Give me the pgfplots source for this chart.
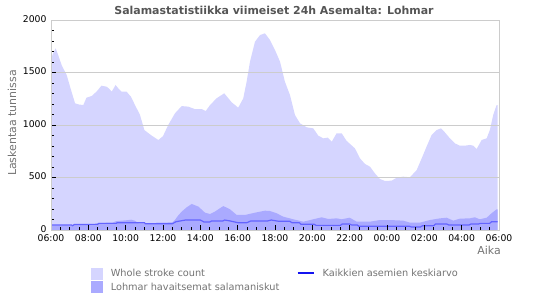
\documentclass[border=0pt]{standalone}
\usepackage{fontspec}
\setmainfont{DejaVu Sans}
\usepackage{pgfplots}
\pgfplotsset{compat=1.18}
\definecolor{lightfill}{RGB}{213,213,255}
\definecolor{darkfill}{RGB}{170,170,255}
\definecolor{avgline}{RGB}{100,100,255}
\definecolor{legline}{RGB}{20,20,240}
\definecolor{titlegray}{RGB}{85,85,85}
\definecolor{labelgray}{RGB}{115,115,115}
\definecolor{framegray}{RGB}{204,204,204}
\begin{document}
\begin{tikzpicture}
\path[use as bounding box] (0,0) rectangle (550bp,300bp);
\begin{axis}[
  at={(51bp,70bp)}, anchor=south west,
  scale only axis, width=448bp, height=210bp,
  xmin=0, xmax=24, ymin=0, ymax=2000,
  axis line style={framegray, line width=0.8bp},
  xtick={0,2,...,24},
  xticklabels={06:00,08:00,10:00,12:00,14:00,16:00,18:00,20:00,22:00,00:00,02:00,04:00,06:00},
  minor x tick num=3,
  ytick={0,500,...,2000},
  minor y tick num=4,
  tick style={black, line width=0.8bp},
  major tick length=5bp, minor tick length=3bp,
  tick align=inside,
  xtick pos=bottom, ytick pos=left,
  ymajorgrids, major grid style={framegray, line width=0.8bp},
  /pgf/number format/assume math mode=true,
  /pgf/number format/set thousands separator={},
  ticklabel style={font=\fontsize{9.3}{11}\selectfont, text=black},
  xticklabel style={yshift=-1bp},
  yticklabel style={xshift=-1bp, yshift=1bp},
  axis on top,
  legend columns=2,
  legend style={at={(0.083,-0.165)}, anchor=north west, draw=none, fill=none,
    font=\fontsize{9.8}{11.5}\selectfont, text=labelgray,
    /tikz/every odd column/.append style={column sep=6bp},
    /tikz/every even column/.append style={column sep=15bp},
    row sep=1bp},
  legend cell align=left,
]
\addlegendimage{legend image code/.code={\fill[lightfill] (0bp,-5.5bp) rectangle (11bp,5.5bp);}}
\addlegendentry{Whole stroke count}
\addlegendimage{legend image code/.code={\draw[legline, line width=2.2bp] (0bp,0bp) -- (16bp,0bp);}}
\addlegendentry{Kaikkien asemien keskiarvo}
\addlegendimage{legend image code/.code={\fill[darkfill] (0bp,-5.5bp) rectangle (11bp,5.5bp);}}
\addlegendentry{Lohmar havaitsemat salamaniskut}

% Whole stroke count
\addplot[fill=lightfill, draw=none, forget plot] coordinates {
(0,0) (0,1620) (0.1,1680) (0.25,1730) (0.4,1660) (0.57,1570) (0.84,1476) (1.1,1317) (1.29,1206)
(1.5,1195) (1.73,1190) (1.9,1260) (2.18,1276) (2.45,1320) (2.7,1374) (2.98,1365) (3.15,1340)
(3.25,1317) (3.46,1381) (3.6,1350) (3.78,1317) (4.05,1317) (4.28,1270) (4.5,1190) (4.77,1095)
(5.0,952) (5.4,898) (5.75,857) (6.0,894) (6.28,1000) (6.64,1111) (7.0,1180) (7.35,1175)
(7.7,1152) (8.07,1152) (8.29,1133) (8.52,1190) (8.87,1254) (9.28,1302) (9.68,1216) (10.03,1165)
(10.3,1254) (10.48,1413) (10.66,1603) (10.93,1794) (11.2,1857) (11.46,1873) (11.73,1810)
(12.0,1714) (12.27,1603) (12.53,1413) (12.8,1286) (13.07,1095) (13.34,1016) (13.7,978)
(14.05,968) (14.32,898) (14.59,873) (14.82,880) (15.04,841) (15.3,921) (15.57,921) (15.84,848)
(16.28,778) (16.55,683) (16.82,629) (17.09,603) (17.35,540) (17.62,486) (17.89,467) (18.25,470)
(18.52,498) (18.87,508) (19.23,502) (19.59,571) (19.86,683) (20.12,794) (20.39,905) (20.66,952)
(20.89,968) (21.1,930) (21.37,873) (21.64,825) (21.9,803) (22.17,803) (22.44,810) (22.62,803)
(22.8,771) (23.07,857) (23.34,873) (23.51,952) (23.69,1095) (23.87,1190) (23.92,1190) (23.92,0)
} \closedcycle;

% Lohmar
\addplot[fill=darkfill, draw=none, forget plot] coordinates {
(0,0) (0,45) (1.1,45) (1.15,40) (1.2,52) (2.5,55) (2.55,68) (3.3,70) (3.5,85) (4.0,92) (4.3,98)
(4.5,88) (4.7,62) (5.6,62) (5.65,70) (6.5,72) (6.64,95) (6.8,135) (7.0,175) (7.27,216) (7.54,248)
(7.9,222) (8.25,165) (8.52,152) (8.78,175) (9.23,228) (9.59,197) (9.95,143) (10.39,143)
(10.93,165) (11.46,184) (11.73,181) (12.09,159) (12.44,127) (12.98,102) (13.52,79) (14.05,102)
(14.5,121) (14.86,105) (15.3,111) (15.57,102) (16.0,117) (16.38,79) (17.09,79) (17.62,95)
(18.16,95) (18.87,89) (19.23,70) (19.76,70) (20.3,95) (20.84,111) (21.2,117) (21.55,89)
(21.9,108) (22.44,111) (22.7,121) (22.97,102) (23.34,117) (23.6,159) (23.87,197) (23.92,197) (23.92,0)
} \closedcycle;

% Average of all stations
\addplot[avgline, line width=1.2bp, forget plot] coordinates {
(0,48) (1.1,48) (1.15,41) (1.25,52) (2.5,54) (2.55,63) (3.5,63) (3.55,70) (5.0,70) (5.05,60)
(6.5,60) (6.7,79) (7.2,95) (8.0,95) (8.2,76) (8.5,76) (8.6,86) (9.2,86) (9.3,95) (9.6,86)
(10.0,70) (10.5,70) (10.7,86) (11.6,86) (11.8,95) (12.2,83) (12.8,83) (12.9,70) (13.3,70)
(13.4,54) (14.1,54) (14.2,44) (15.5,44) (15.6,57) (16.0,57) (16.1,48) (16.4,48) (16.5,35)
(19.2,35) (19.3,29) (19.8,29) (19.9,41) (20.5,41) (20.6,57) (21.2,57) (21.3,48) (22.4,48)
(22.5,57) (22.9,57) (23.0,63) (23.5,63) (23.6,79) (23.92,79)
};
\end{axis}
\node[font=\bfseries\fontsize{11}{13}\selectfont, text=titlegray] at (274bp,290bp) {Salamastatistiikka viimeiset 24h Asemalta: Lohmar};
\node[font=\fontsize{11}{13}\selectfont, text=labelgray, rotate=90] at (12bp,177bp) {Laskentaa tunnissa};
\node[font=\fontsize{11}{13}\selectfont, text=labelgray] at (489bp,50bp) {Aika};
\end{tikzpicture}
\end{document}
